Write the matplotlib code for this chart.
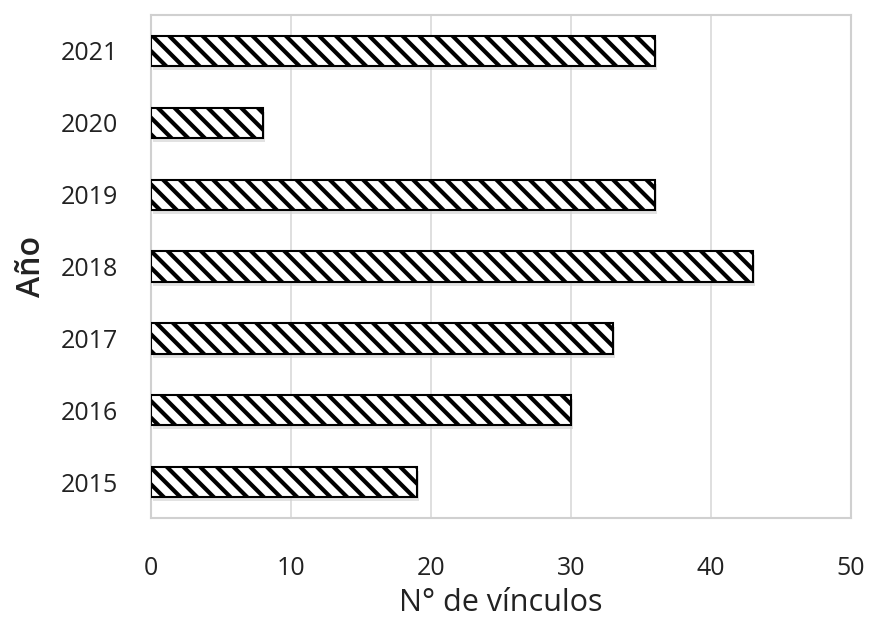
import numpy as np
import matplotlib
matplotlib.use("Agg")
import matplotlib.pyplot as plt
import matplotlib.transforms as mtransforms

years = ["2015", "2016", "2017", "2018", "2019", "2020", "2021"]
vinculos = [19, 30, 33, 43, 36, 8, 36]
x_ticks = [0, 10, 20, 30, 40, 50]

plt.rcParams['font.family'] = ['Open Sans', 'DejaVu Sans']
plt.rcParams['hatch.linewidth'] = 3.0

fig = plt.figure(figsize=(8.69, 6.22), dpi=100)
ax = fig.add_axes([0.174, 0.167, 0.805, 0.809])

pos = np.arange(len(years))
# soft drop shadow under each bar
shadow_tr = mtransforms.offset_copy(ax.transData, fig=fig, x=2, y=-4, units='dots')
ax.barh(pos, vinculos, height=0.42, color='#cfcfcf', alpha=0.6, linewidth=0,
        transform=shadow_tr, zorder=2)
ax.barh(pos, vinculos, height=0.42, color='white', edgecolor='black',
        linewidth=1.5, hatch='\\\\', zorder=3)

ax.set_xlim(0, 50)
ax.set_ylim(-0.5, 6.5)
ax.set_xticks(x_ticks)
ax.set_yticks(pos)
ax.set_yticklabels(years)
ax.grid(axis='x', color='#d9d9d9', linewidth=1.2, zorder=0)
ax.tick_params(length=0, labelsize=18, labelcolor='#222222')
ax.tick_params(axis='y', pad=24)
ax.tick_params(axis='x', pad=27)
for s in ax.spines.values():
    s.set_color('#d0d0d0')
    s.set_linewidth(1.5)

ax.set_xlabel("N° de vínculos", fontsize=22, color='#222222', labelpad=5)
ax.set_ylabel("Año", fontsize=23, color='#222222', fontweight='semibold', labelpad=9)

fig.savefig("out.png", dpi=100)
